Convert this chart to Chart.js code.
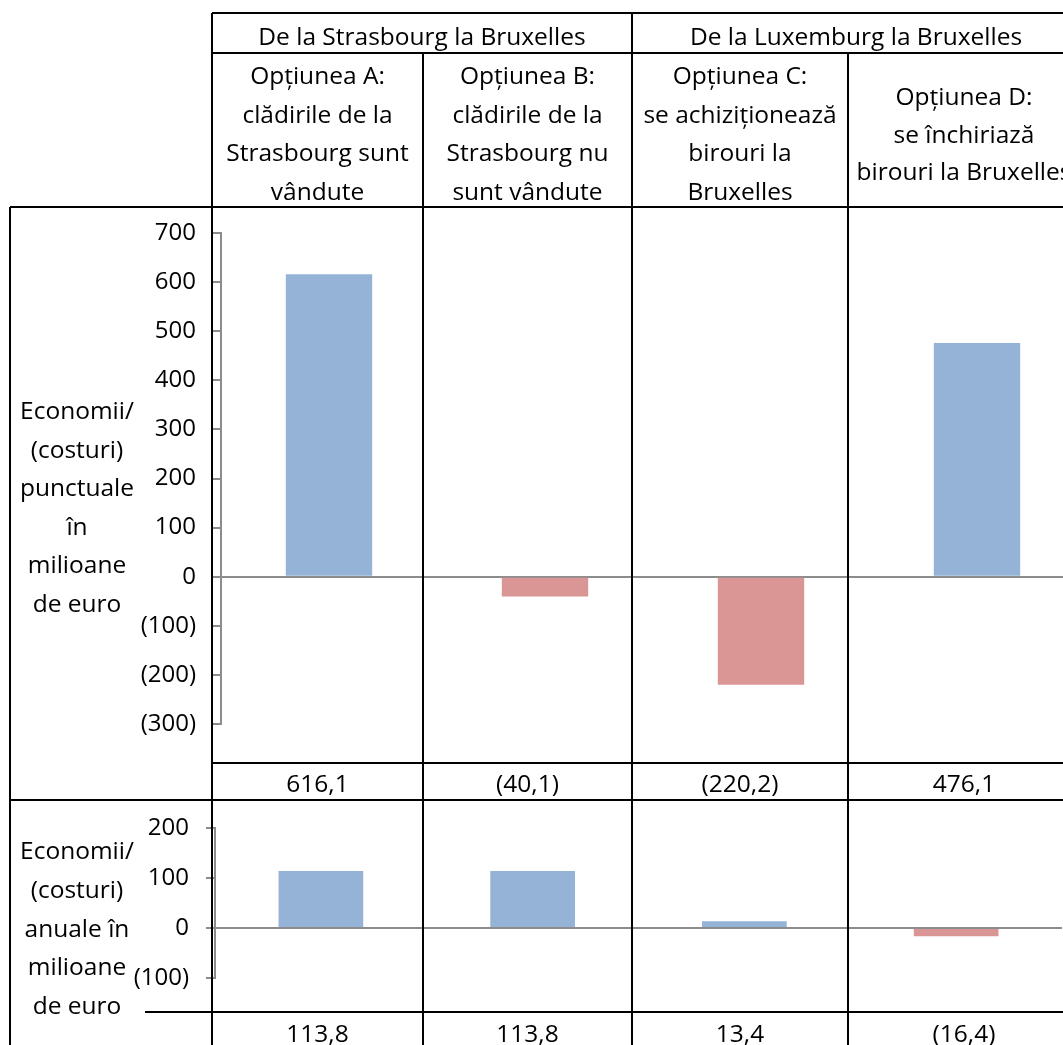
<!DOCTYPE html>
<html>
<head>
<meta charset="utf-8">
<script src="https://cdn.jsdelivr.net/npm/chart.js@4/dist/chart.umd.min.js"></script>
<style>
  html, body { margin: 0; padding: 0; background: #fff; overflow: hidden; }
  #page { position: relative; width: 1063px; height: 1045px; overflow: hidden; font-family: "Open Sans", Lato, sans-serif; color: #000; }
  .hl { position: absolute; height: 2px; background: #000; z-index: 3; }
  .vl { position: absolute; width: 2px; background: #000; z-index: 3; }
  .ln { position: absolute; width: 600px; text-align: center; white-space: nowrap; font-size: 24.5px; z-index: 4; }
  .chartbox { position: absolute; left: 0; z-index: 1; }
</style>
</head>
<body>
<div id="page">
  <div class="chartbox" style="top:201px"><canvas id="oneOff" width="1100" height="599"></canvas></div>
  <div class="chartbox" style="top:796px"><canvas id="annual" width="1100" height="249"></canvas></div>
</div>
<script>
// Relocation options and their savings / (costs), in millions of euro
const options = ['Opțiunea A', 'Opțiunea B', 'Opțiunea C', 'Opțiunea D'];
const oneOffValues = [616.1, -40.1, -220.2, 476.1];
const annualValues = [113.8, 113.8, 13.4, -16.4];

// Axis ranges (tick step 100)
const oneOffRange = [-300, 700];
const annualRange = [-100, 200];

// Header texts
const groupLabels = ['De la Strasbourg la Bruxelles', 'De la Luxemburg la Bruxelles'];
const optionLabels = [
  ['Opțiunea A:', 'clădirile de la', 'Strasbourg sunt', 'vândute'],
  ['Opțiunea B:', 'clădirile de la', 'Strasbourg nu', 'sunt vândute'],
  ['Opțiunea C:', 'se achiziționează', 'birouri la', 'Bruxelles'],
  ['Opțiunea D:', 'se închiriază', 'birouri la Bruxelles']
];
const oneOffTitle = ['Economii/', '(costuri)', 'punctuale', 'în', 'milioane', 'de euro'];
const annualTitle = ['Economii/', '(costuri)', 'anuale în', 'milioane', 'de euro'];

const BLUE = '#95b3d7';
const RED = '#d99694';
const GRAY = '#8c8c8c';
const FONT = 'Open Sans';

// Accounting style: negatives in parentheses, decimal comma
function fmtValue(v) {
  const s = Math.abs(v).toFixed(1).replace('.', ',');
  return v < 0 ? '(' + s + ')' : s;
}
function fmtTick(v) {
  return v < 0 ? '(' + Math.abs(v) + ')' : String(v);
}

const page = document.getElementById('page');

function hLine(y, x1, x2) {
  const d = document.createElement('div');
  d.className = 'hl';
  d.style.top = (y - 1) + 'px'; d.style.left = x1 + 'px'; d.style.width = (x2 - x1) + 'px';
  page.appendChild(d);
}
function vLine(x, y1, y2) {
  const d = document.createElement('div');
  d.className = 'vl';
  d.style.left = (x - 1) + 'px'; d.style.top = y1 + 'px'; d.style.height = (y2 - y1) + 'px';
  page.appendChild(d);
}
function textLines(lines, cx, y0, step) {
  lines.forEach((t, i) => {
    const d = document.createElement('div');
    d.className = 'ln';
    const y = y0 + i * step;
    d.style.left = (cx - 300) + 'px';
    d.style.top = (y - 16) + 'px';
    d.style.lineHeight = '32px';
    d.textContent = t;
    page.appendChild(d);
  });
}

// Table grid
const R = 1090;
hLine(13, 212, R);
hLine(53, 212, R);
hLine(207, 10, R);
hLine(763, 212, R);
hLine(800, 10, R);
hLine(1012, 145, R);
vLine(10, 207, 1045);
vLine(212, 13, 1045);
vLine(423, 53, 1045);
vLine(632, 13, 1045);
vLine(848, 53, 1045);

// Column centres of the table cells
const colCenters = [317.5, 527.5, 740, 964];

textLines([groupLabels[0]], 422, 35.5, 0);
textLines([groupLabels[1]], 856, 35.5, 0);
optionLabels.forEach((lines, i) => {
  if (lines.length === 4) textLines(lines, colCenters[i], 75, 38.5);
  else textLines(lines, colCenters[i], 96, 37.5);
});
textLines(oneOffTitle, 77, 410, 38.5);
textLines(annualTitle, 77, 850, 38.8);
oneOffValues.forEach((v, i) => textLines([fmtValue(v)], colCenters[i], 783, 0));
annualValues.forEach((v, i) => textLines([fmtValue(v)], colCenters[i], 1033, 0));

function makeChart(id, values, range, pad, axisWidth, tickLen) {
  return new Chart(document.getElementById(id), {
    type: 'bar',
    data: {
      labels: options,
      datasets: [{
        data: values,
        backgroundColor: c => (c.raw < 0 ? RED : BLUE),
        borderWidth: 0,
        barPercentage: 0.5,
        categoryPercentage: 0.8
      }]
    },
    options: {
      responsive: false,
      animation: false,
      devicePixelRatio: 1,
      layout: { padding: pad },
      plugins: { legend: { display: false }, tooltip: { enabled: false } },
      scales: {
        x: { display: false },
        y: {
          min: range[0],
          max: range[1],
          ticks: {
            stepSize: 100,
            callback: fmtTick,
            padding: 17,
            color: '#000',
            font: { family: FONT, size: 24 }
          },
          grid: {
            color: c => (c.tick && c.tick.value === 0 ? GRAY : 'rgba(0,0,0,0)'),
            tickColor: GRAY,
            tickLength: tickLen,
            lineWidth: 2
          },
          border: { color: GRAY, width: 2 },
          afterFit: s => { s.width = axisWidth; }
        }
      }
    }
  });
}

makeChart('oneOff', oneOffValues, oneOffRange, { top: 32, bottom: 76, left: 0, right: 15 }, 221, 8);
makeChart('annual', annualValues, annualRange, { top: 32, bottom: 67, left: 0, right: 38 }, 215, 9);
</script>
</body>
</html>
